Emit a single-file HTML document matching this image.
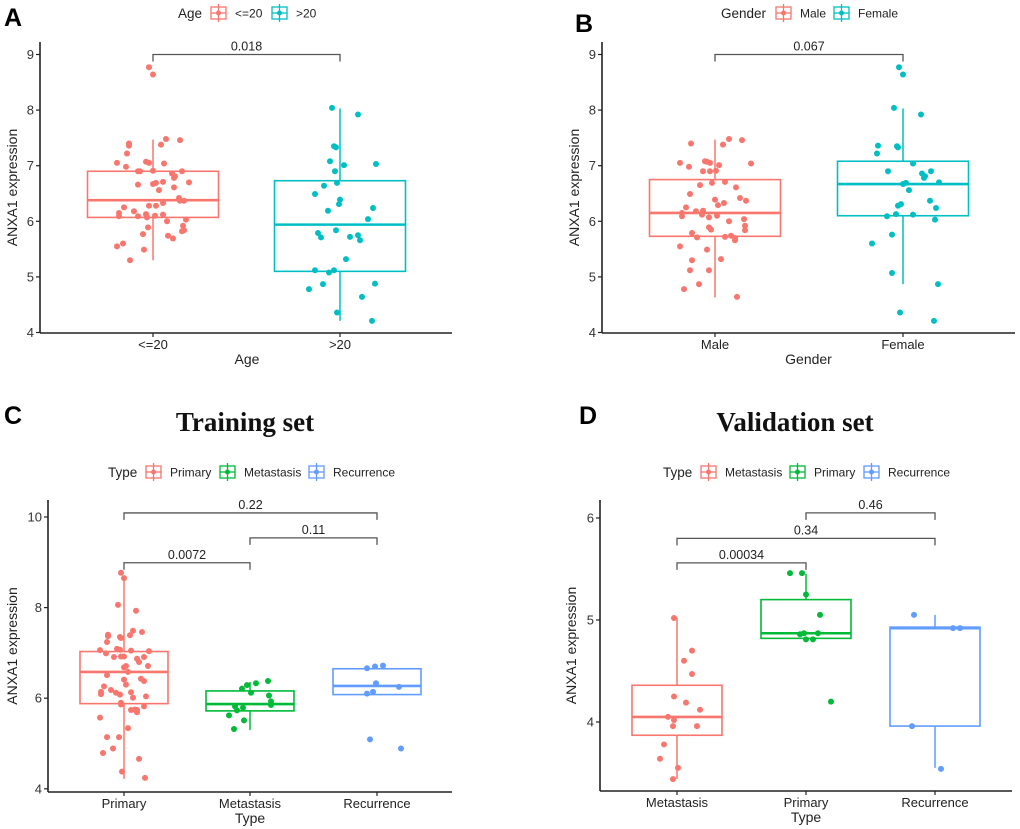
<!DOCTYPE html>
<html><head><meta charset="utf-8"><style>
body{margin:0;background:#fff;}
svg{display:block;font-family:"Liberation Sans",sans-serif;}
</style></head><body>
<svg id="fig" width="1020" height="829" viewBox="0 0 1020 829" xmlns="http://www.w3.org/2000/svg"></svg>
<script>
// ---------- DATA ----------
const catsA = ["<=20", ">20"];
const valsA0 = [8.77,8.64,7.48,7.46,7.40,7.36,7.38,7.22,7.05,6.98,7.07,7.05,7.04,6.90,6.90,6.91,6.90,6.86,6.81,6.78,6.66,6.67,6.69,6.71,6.70,6.56,6.61,6.42,6.37,6.37,6.25,6.28,6.28,6.33,6.18,6.15,6.09,6.09,6.13,6.07,6.10,6.12,6.00,6.03,5.92,5.89,5.84,5.82,5.77,5.74,5.69,5.55,5.60,5.49,5.30];
const jitA0 = [-4,0,13,27,-24,-24,8,-26,-36,-27,-7,-4,11,-15,-13,0,29,19,22,21,-15,0,3,10,36,6,21,26,27,31,-29,-4,3,10,-19,-34,-34,-15,-7,-6,2,10,14,33,30,-5,31,29,-10,15,20,-36,-30,-9,-23];
const valsA1 = [8.04,7.92,7.35,7.33,7.08,7.03,7.01,6.90,6.69,6.64,6.49,6.39,6.31,6.24,6.19,6.04,5.84,5.79,5.71,5.72,5.75,5.66,5.32,5.12,5.12,5.08,4.87,4.88,4.78,4.64,4.36,4.21];
const jitA1 = [-8,18,-6,-4,-10,36,4,-5,-3,-16,-25,0,-1,33,-12,28,-4,-22,-19,10,18,20,6,-25,-6,-11,-17,35,-31,22,-3,32];
const boxA = [[5.30,6.07,6.38,6.90,7.47],[4.21,5.10,5.94,6.73,8.03]];

const catsB = ["Male", "Female"];
const valsB0 = [7.40,7.48,7.46,7.38,7.05,6.98,7.08,7.07,7.05,7.01,7.04,6.90,6.90,6.91,6.69,6.71,6.65,6.61,6.49,6.42,6.39,6.37,6.33,6.29,6.25,6.18,6.19,6.15,6.12,6.09,6.10,6.07,6.00,6.04,5.92,5.89,5.85,5.84,5.79,5.71,5.72,5.74,5.70,5.66,5.55,5.49,5.30,5.32,5.12,5.12,4.87,4.78,4.64];
const jitB0 = [-24,14,27,8,-35,-26,-10,-8,-5,4,36,-12,-5,1,-3,10,-15,21,-25,25,0,31,9,3,-29,-19,-12,-33,-13,-33,2,-6,14,29,30,-6,-4,30,-23,-18,10,16,20,20,-35,-8,-23,6,-25,-6,-16,-31,22];
const valsB1 = [8.77,8.64,8.04,7.92,7.36,7.35,7.33,7.22,7.04,6.90,6.90,6.86,6.81,6.78,6.70,6.69,6.67,6.56,6.37,6.31,6.28,6.24,6.09,6.13,6.12,6.03,5.76,5.60,5.07,4.87,4.36,4.21];
const jitB1 = [-4,0,-9,18,-25,-6,-5,-26,10,-15,28,19,22,21,36,3,0,6,27,-2,-5,33,-16,-7,10,32,-11,-31,-11,35,-3,31];
const boxB = [[4.63,5.73,6.15,6.75,7.47],[4.87,6.10,6.67,7.08,8.03]];

const catsC = ["Primary", "Metastasis", "Recurrence"];
const valsC0 = [8.77,8.65,8.06,7.93,7.49,7.46,7.40,7.37,7.39,7.35,7.33,7.24,7.06,7.09,7.07,7.05,7.04,6.99,6.91,6.92,6.92,6.87,6.91,6.80,6.71,6.68,6.71,6.58,6.51,6.43,6.38,6.41,6.30,6.26,6.18,6.12,6.14,6.09,6.08,6.13,6.04,6.01,5.90,5.86,5.82,5.74,5.75,5.69,5.74,5.57,5.34,5.14,5.14,4.79,4.89,4.66,4.38,4.24];
const jitC0 = [-3,0,-6,12,9,18,-16,-16,6,-4,-3,-17,-24,-7,-4,7,25,-18,-10,-3,0,13,20,15,24,0,2,4,-17,17,20,0,2,-20,-13,-8,-23,-23,-4,7,22,9,-3,-3,20,7,11,13,13,-24,4,-17,-5,-21,-11,15,-2,21];
const valsC1 = [6.38,6.33,6.29,6.21,6.12,6.06,5.93,5.85,5.82,5.79,5.73,5.62,5.51,5.32];
const jitC1 = [18,6,-3,-8,1,19,21,21,-15,-7,-13,-21,-6,-16];
const valsC2 = [6.72,6.70,6.66,6.33,6.25,6.14,6.10,5.09,4.89];
const jitC2 = [6,-2,-10,-1,22,-4,-10,-7,24];
const boxC = [[4.22,5.88,6.58,7.03,8.63],[5.30,5.72,5.87,6.16,6.36],[6.08,6.08,6.27,6.65,6.72]];

const catsD = ["Metastasis", "Primary", "Recurrence"];
const valsD0 = [5.02,4.70,4.60,4.47,4.25,4.19,4.12,4.05,4.02,3.96,3.96,3.78,3.64,3.55,3.44];
const jitD0 = [-3,15,7,15,-3,9,23,-9,-3,-4,20,-13,-17,1,-4];
const valsD1 = [5.46,5.46,5.25,5.05,4.87,4.87,4.86,4.81,4.81,4.20];
const jitD1 = [-16,-4,0,14,-2,12,-6,0,7,25];
const valsD2 = [5.05,4.92,4.92,3.96,3.54];
const jitD2 = [-21,18,25,-23,6];
const boxD = [[3.44,3.87,4.05,4.36,5.02],[4.82,4.82,4.87,5.20,5.45],[3.55,3.96,4.92,4.93,5.05]];

// ---------- DRAWING ----------
const NS = "http://www.w3.org/2000/svg";
const fig = document.getElementById('fig');
function mk(tag, attrs, parent, text){
  const e = document.createElementNS(NS, tag);
  for (const k in attrs) e.setAttribute(k, attrs[k]);
  if (text !== undefined) e.textContent = text;
  (parent || fig).appendChild(e);
  return e;
}
const RED="#F8766D", TEAL="#00BFC4", GREEN="#00BA38", BLUE="#619CFF";

function legendKey(g, x, y, col){
  const k = mk('g', {}, g);
  
  
  mk('rect', {x:x, y:y-6, width:15, height:12, fill:'#fff', stroke:col, 'stroke-width':1.3}, k);
  mk('line', {x1:x+7.5, y1:y-9, x2:x+7.5, y2:y+9, stroke:col, 'stroke-width':1.3}, k);
  mk('line', {x1:x, y1:y, x2:x+15, y2:y, stroke:col, 'stroke-width':1.3}, k);
  mk('circle', {cx:x+7.5, cy:y, r:2.5, fill:col}, k);
}

function panel(P){
  const g = mk('g', {});
  
  
  const ys = v => P.y0 + (P.v0 - v) * P.ppu;
  // letter
  const L = mk('text', {x:P.letterX, y:P.letterY, 'font-size':25, 'font-weight':'bold', fill:'#000'}, g, P.letter);
  
  
  if (P.title){
    const t = mk('text', {x:P.titleX, y:P.titleY, 'font-size':27, 'font-weight':'bold', 'text-anchor':'middle', 'font-family':'"Liberation Serif",serif', fill:'#111'}, g, P.title);
    
    
  }
  // legend
  const lg = mk('g', {}, g);
  
  
  mk('text', {x:P.legX, y:P.legY+5, 'font-size':13.5, fill:'#222'}, lg, P.legTitle);
  P.legItems.forEach((it, i) => {
    legendKey(lg, it[0], P.legY, P.cols[i]);
    const lt = mk('text', {x:it[0]+24, y:P.legY+4.5, 'font-size':12, fill:'#222'}, lg, P.cats[i]);
    
    
  });
  // axes
  const ax = mk('g', {}, g);
  
  
  mk('line', {x1:P.left, y1:P.top, x2:P.left, y2:P.bottom, stroke:'#222', 'stroke-width':1.6}, ax);
  mk('line', {x1:P.left, y1:P.bottom, x2:P.right, y2:P.bottom, stroke:'#222', 'stroke-width':1.6}, ax);
  P.ticks.forEach(t => {
    const y = ys(t);
    mk('line', {x1:P.left-4, y1:y, x2:P.left, y2:y, stroke:'#222', 'stroke-width':1.2}, ax);
    const tl = mk('text', {x:P.left-6, y:y+4.5, 'font-size':13, 'text-anchor':'end', fill:'#333'}, ax, String(t));
    
    
  });
  P.cx.forEach((x, i) => {
    mk('line', {x1:x, y1:P.bottom, x2:x, y2:P.bottom+4, stroke:'#222', 'stroke-width':1.2}, ax);
    const xl = mk('text', {x:x, y:P.bottom+16, 'font-size':13, 'text-anchor':'middle', fill:'#222'}, ax, P.cats[i]);
    
    
  });
  const xt = mk('text', {x:(P.left+P.right)/2 - (P.xTitleShift||0), y:P.bottom+31, 'font-size':14, 'text-anchor':'middle', fill:'#222'}, ax, P.xTitle);
  
  
  const ytx = P.yTitleX, yty = (P.top+P.bottom)/2;
  const yt = mk('text', {x:ytx, y:yty, 'font-size':14, 'text-anchor':'middle', fill:'#222', transform:`rotate(-90 ${ytx} ${yty})`}, ax, 'ANXA1 expression');
  
  
  // boxes
  P.box.forEach((b, i) => {
    const col = P.cols[i], x = P.cx[i], hw = P.hw;
    const bg = mk('g', {}, g);
    
    
    mk('line', {x1:x, y1:ys(b[0]), x2:x, y2:ys(b[1]), stroke:col, 'stroke-width':1.5}, bg);
    mk('line', {x1:x, y1:ys(b[3]), x2:x, y2:ys(b[4]), stroke:col, 'stroke-width':1.5}, bg);
    mk('rect', {x:x-hw, y:ys(b[3]), width:2*hw, height:ys(b[1])-ys(b[3]), fill:'none', stroke:col, 'stroke-width':1.6}, bg);
    mk('line', {x1:x-hw, y1:ys(b[2]), x2:x+hw, y2:ys(b[2]), stroke:col, 'stroke-width':2.6}, bg);
  });
  // points
  P.pts.forEach((arr, i) => {
    const pg = mk('g', {}, g);
    
    
    arr[0].forEach((v, j) => {
      const c = mk('circle', {cx:P.cx[i] + arr[1][j], cy:ys(v), r:3, fill:P.cols[i]}, pg);
      
      
    });
  });
  // brackets
  P.brackets.forEach(br => {
    const bg = mk('g', {}, g);
    
    
    const x1 = P.cx[br[0]], x2 = P.cx[br[1]], y = ys(br[2]);
    mk('path', {d:`M${x1} ${y+7}V${y}H${x2}V${y+7}`, fill:'none', stroke:'#555', 'stroke-width':1.3}, bg);
    mk('text', {x:(x1+x2)/2, y:y-4, 'font-size':12.5, 'text-anchor':'middle', fill:'#222'}, bg, br[3]);
  });
}

panel({name:'panel-a', letter:'A', letterX:4, letterY:26, cats:catsA, cols:[RED,TEAL],
  legTitle:'Age', legX:178, legY:13, legItems:[[211],[272]],
  left:40, right:452, top:42, bottom:333, y0:54.5, v0:9, ppu:55.6, ticks:[4,5,6,7,8,9],
  cx:[153,340], hw:65.5, xTitle:'Age', xTitleShift:-1, yTitleX:17,
  box:boxA, pts:[[valsA0,jitA0],[valsA1,jitA1]], brackets:[[0,1,9.0,'0.018']]});

panel({name:'panel-b', letter:'B', letterX:575, letterY:32, cats:catsB, cols:[RED,TEAL],
  legTitle:'Gender', legX:721, legY:13, legItems:[[776],[834]],
  left:602, right:1015, top:42, bottom:333, y0:54.5, v0:9, ppu:55.6, ticks:[4,5,6,7,8,9],
  cx:[715,903], hw:65.5, xTitle:'Gender', xTitleShift:0, yTitleX:579,
  box:boxB, pts:[[valsB0,jitB0],[valsB1,jitB1]], brackets:[[0,1,9.0,'0.067']]});

panel({name:'panel-c', letter:'C', letterX:4, letterY:424, title:'Training set', titleX:245, titleY:431, cats:catsC, cols:[RED,GREEN,BLUE],
  legTitle:'Type', legX:108, legY:472, legItems:[[146],[220],[309]],
  left:48, right:452, top:500, bottom:792, y0:517, v0:10, ppu:45.3, ticks:[4,6,8,10],
  cx:[124,250,377], hw:44, xTitle:'Type', xTitleShift:0, yTitleX:17,
  box:boxC, pts:[[valsC0,jitC0],[valsC1,jitC1],[valsC2,jitC2]],
  brackets:[[0,2,10.09,'0.22'],[1,2,9.54,'0.11'],[0,1,8.99,'0.0072']]});

panel({name:'panel-d', letter:'D', letterX:579, letterY:424, title:'Validation set', titleX:795, titleY:431, cats:catsD, cols:[RED,GREEN,BLUE],
  legTitle:'Type', legX:663, legY:472, legItems:[[701],[790],[864]],
  left:600, right:1012, top:500, bottom:791, y0:518, v0:6, ppu:102, ticks:[4,5,6],
  cx:[677,806,935], hw:45, xTitle:'Type', xTitleShift:0, yTitleX:576,
  box:boxD, pts:[[valsD0,jitD0],[valsD1,jitD1],[valsD2,jitD2]],
  brackets:[[1,2,6.05,'0.46'],[0,2,5.80,'0.34'],[0,1,5.56,'0.00034']]});
</script>
</body></html>
